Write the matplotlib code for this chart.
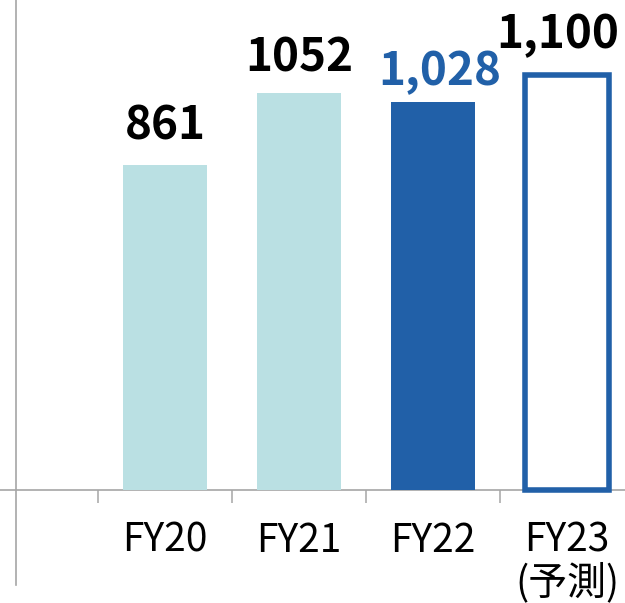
import matplotlib.pyplot as plt

plt.rcParams['font.family'] = ['Noto Sans CJK JP', 'DejaVu Sans']

categories = ['FY20', 'FY21', 'FY22', 'FY23\n(予測)']
values = [861, 1052, 1028, 1100]
value_labels = ['861', '1052', '1,028', '1,100']

light = '#BAE0E3'
blue = '#2160A8'
grey = '#A6A6A6'

fig = plt.figure(figsize=(6.25, 6.03), dpi=100)
# axes covers the whole width, bottom at 585px from top
ax = fig.add_axes([0, 18 / 603, 1, 585 / 603])

xs = list(range(len(categories)))
px = 0.3775  # pixels per unit

for i, v in enumerate(values):
    if i == 3:
        ax.bar(xs[i], v, width=0.625, facecolor='white', edgecolor=blue,
               linewidth=4, zorder=3)
    elif i == 2:
        ax.bar(xs[i], v, width=0.625, color=blue, zorder=3)
    else:
        ax.bar(xs[i], v, width=0.625, color=light, zorder=3)

# label nudges (points) - the last two labels sit a bit off-centre
nudge = [(0, 11), (0, 8), (5, 5), (-7, 12)]
for i, v in enumerate(values):
    col = blue if i == 2 else 'black'
    ax.annotate(value_labels[i], (xs[i], v), xytext=nudge[i],
                textcoords='offset points', ha='center', va='bottom',
                fontsize=33, fontweight='bold', color=col, zorder=5)

for s in ['top', 'right']:
    ax.spines[s].set_visible(False)
ax.spines['left'].set_position(('data', (16 - 165) / 134))
ax.spines['bottom'].set_position(('data', 0))
for s in ['left', 'bottom']:
    ax.spines[s].set_color(grey)
    ax.spines[s].set_linewidth(1.2)

ax.set_yticks([])
ax.set_xticks(xs)
ax.set_xticklabels(categories, fontsize=28, linespacing=1.05)
ax.set_xticks([x - 0.5 for x in xs], minor=True)
ax.tick_params(axis='x', which='major', length=0, pad=22)
ax.tick_params(axis='x', which='minor', length=9.5, width=1.1,
               color=grey, direction='out')

# limits last so set_xticks can't widen them
ax.set_xlim(-165 / 134, 460 / 134)
ax.set_ylim(-95 / px, 490 / px)

fig.savefig('out.png', dpi=100)
